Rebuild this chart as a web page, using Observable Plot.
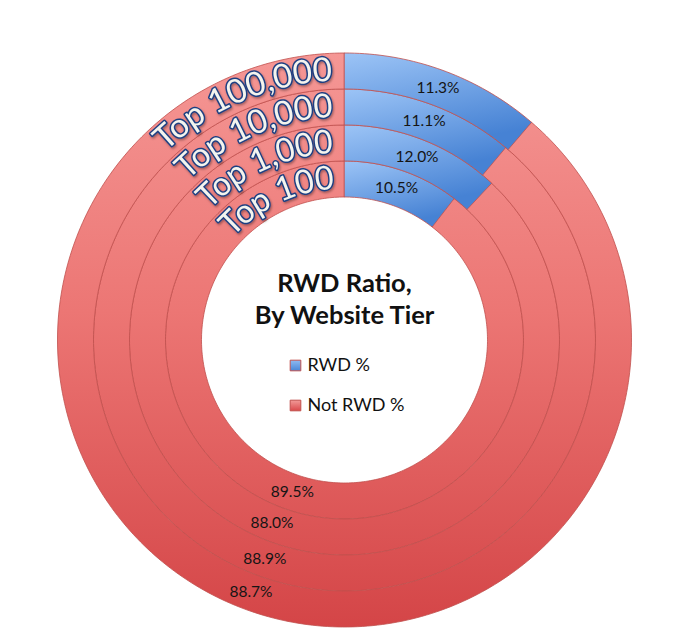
<!DOCTYPE html>
<html><head><meta charset="utf-8">
<script src="https://cdn.jsdelivr.net/npm/d3@7"></script>
<script src="https://cdn.jsdelivr.net/npm/@observablehq/plot@0.6"></script>
<style>body{margin:0;background:#fff}</style>
</head><body><div id="chart"></div>
<script>
// Data (inner ring → outer ring)
const tiers = ["Top 100", "Top 1,000", "Top 10,000", "Top 100,000"];
const rwdPct = [10.5, 12.0, 11.1, 11.3];
const notRwdPct = [89.5, 88.0, 88.9, 88.7];
const seriesNames = ["RWD %", "Not RWD %"];
const titleLines = ["RWD Ratio,", "By Website Tier"];

const W = 675, H = 639, CX = 344, CY = 339.5;
const R0 = 143, RW = 36;
const deg = Math.PI / 180;
const pt = (r, a) => [r * Math.sin(a * deg), -r * Math.cos(a * deg)];

const slices = [];
tiers.forEach((t, i) => {
  const vals = [rwdPct[i], notRwdPct[i]];
  const total = vals[0] + vals[1];
  let a0 = 0;
  vals.forEach((v, j) => {
    const a1 = a0 + v / total * 360;
    slices.push({tier: t, ring: i, series: seriesNames[j], value: v, a0, a1, r0: R0 + i * RW, r1: R0 + (i + 1) * RW});
    a0 = a1;
  });
});

const poly = [];
slices.forEach((s, k) => {
  const n = Math.max(4, Math.ceil(s.a1 - s.a0));
  for (let m = 0; m <= n; m++) { const [x, y] = pt(s.r1, s.a0 + (s.a1 - s.a0) * m / n); poly.push({k, series: s.series, x, y}); }
  for (let m = n; m >= 0; m--) { const [x, y] = pt(s.r0, s.a0 + (s.a1 - s.a0) * m / n); poly.push({k, series: s.series, x, y}); }
});

const labels = slices.map(s => {
  const [x, y] = pt((s.r0 + s.r1) / 2, (s.a0 + s.a1) / 2);
  return {x, y, text: s.value.toFixed(1) + "%"};
});

const legend = seriesNames.map((s, i) => ({name: s, i}));

const chart = Plot.plot({
  width: W, height: H, margin: 0,
  x: {domain: [-CX, W - CX], axis: null},
  y: {domain: [-CY, H - CY], range: [0, H], axis: null},
  style: {fontFamily: "Lato, 'Open Sans', sans-serif", background: "transparent"},
  marks: [
    Plot.line(poly.filter(d => d.series === "Not RWD %"), {x: "x", y: "y", z: "k", fill: "url(#gRed)", stroke: "#c0504d", strokeWidth: 1, strokeOpacity: 0.8, curve: "linear-closed"}),
    Plot.line(poly.filter(d => d.series === "RWD %"), {x: "x", y: "y", z: "k", fill: "url(#gBlue)", stroke: "#c0504d", strokeWidth: 1, strokeOpacity: 0.8, curve: "linear-closed"}),
    Plot.text(labels, {x: "x", y: "y", text: "text", fontSize: 15.5, fill: "#151515"}),
    Plot.text(titleLines, {x: 0, y: (d, i) => -56 + i * 32, text: d => d, fontSize: 25.5, fontWeight: "bold", fill: "#111"}),
    Plot.dot(legend, {x: -49, y: d => 25.5 + d.i * 40, symbol: "square", r: 6, fill: d => d.i === 0 ? "url(#gBlueL)" : "url(#gRedL)", stroke: "#c0504d", strokeWidth: 1}),
    Plot.text(legend, {x: -37, y: d => 25.5 + d.i * 40, text: "name", textAnchor: "start", fontSize: 18, fill: "#111"})
  ]
});

const svg = d3.select(chart);
const defs = svg.insert("defs", ":first-child");
const lg = (id, attrs, stops) => {
  const g = defs.append("linearGradient").attr("id", id);
  Object.entries(attrs).forEach(([k, v]) => g.attr(k, v));
  stops.forEach(([o, c]) => g.append("stop").attr("offset", o).attr("stop-color", c));
};
lg("gRed", {gradientUnits: "userSpaceOnUse", x1: 0, y1: 52, x2: 0, y2: 627}, [[0, "#f59795"], [0.45, "#ec7674"], [1, "#d44547"]]);
lg("gBlue", {x1: 0, y1: 0, x2: 0.35, y2: 1}, [[0, "#9cc4f6"], [1, "#4682d4"]]);
lg("gBlueL", {x1: 0, y1: 0, x2: 0, y2: 1}, [[0, "#8fbaf2"], [1, "#4a86d6"]]);
lg("gRedL", {x1: 0, y1: 0, x2: 0, y2: 1}, [[0, "#f29a98"], [1, "#d9494b"]]);
const f = defs.append("filter").attr("id", "tshadow").attr("x", "-10%").attr("y", "-10%").attr("width", "120%").attr("height", "130%");
f.append("feDropShadow").attr("dx", 1).attr("dy", 1.5).attr("stdDeviation", 0.8).attr("flood-color", "#000").attr("flood-opacity", 0.35);

// Curved tier labels along each ring
const sx = chart.scale("x").apply, sy = chart.scale("y").apply;
const startA = [-47.5, -46, -44.5, -43.5];
const endA = [-3.5, -3.2, -2.8, -2.5];
const tg = svg.append("g").attr("font-family", "Lato, 'Open Sans', sans-serif").attr("font-size", 33)
  .attr("text-anchor", "start").attr("filter", "url(#tshadow)");
tiers.forEach((t, i) => {
  const rb = R0 + i * RW + 8;
  const [x0, y0] = pt(rb, -90), [x1, y1] = pt(rb, 0);
  const r = sx(rb) - sx(0);
  defs.append("path").attr("id", "arc" + i)
    .attr("d", `M${sx(x0)},${sy(y0)} A${r},${r} 0 0 1 ${sx(x1)},${sy(y1)}`);
  const off = (startA[i] + 90) * deg * r;
  const len = (endA[i] - startA[i]) * deg * r;
  tg.append("text").attr("text-anchor", "start")
    .attr("fill", "#f4f4ee").attr("stroke", "#1f3f82").attr("stroke-width", 3)
    .attr("paint-order", "stroke").attr("stroke-linejoin", "round")
    .append("textPath").attr("href", "#arc" + i)
    .attr("startOffset", off).attr("textLength", len).attr("lengthAdjust", "spacingAndGlyphs")
    .text(t);
});

document.getElementById("chart").appendChild(chart);
</script>
</body></html>
